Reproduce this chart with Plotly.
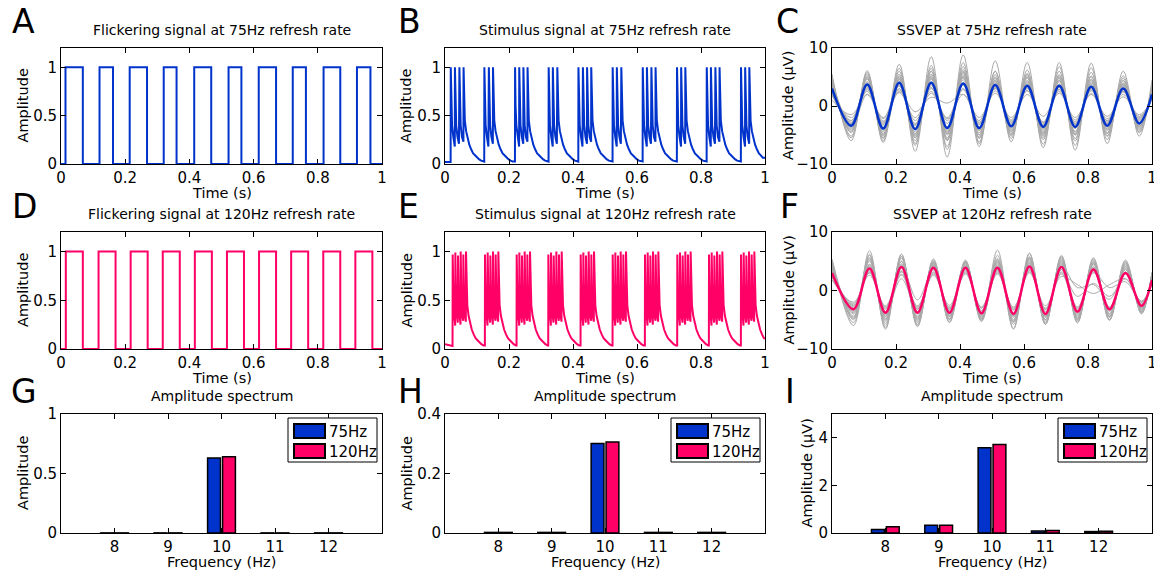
import plotly.graph_objects as go

W, H = 1162, 572
PAD = 8  # page margin around the figure
FONT = "DejaVu Sans"
BLUE = "#0033cc"
PINK = "#ff0066"
GRAY = "#a9a9a9"

time_ticks = [0, 0.2, 0.4, 0.6, 0.8, 1]
time_labels = ["0", "0.2", "0.4", "0.6", "0.8", "1"]
freqs = [8, 9, 10, 11, 12]

# flickering signals (A, D): on / off edges in seconds
flicker75_on = [0.014, 0.120, 0.214, 0.320, 0.415, 0.522, 0.616, 0.722, 0.818, 0.922]
flicker75_off = [0.068, 0.162, 0.268, 0.360, 0.468, 0.562, 0.670, 0.763, 0.870, 0.964]
flicker120_on = [0.015, 0.117, 0.217, 0.317, 0.417, 0.517, 0.617, 0.717, 0.817, 0.917]
flicker120_off = [0.068, 0.170, 0.270, 0.370, 0.470, 0.570, 0.670, 0.770, 0.870, 0.970]

# stimulus signals (B, E): spike times per burst, spike peaks, dips, decay shapes
stim75_bursts = [
    [0.018, 0.031, 0.045, 0.058], [0.123, 0.137, 0.150],
    [0.219, 0.232, 0.245, 0.258], [0.324, 0.337, 0.351],
    [0.417, 0.431, 0.444, 0.457], [0.524, 0.537, 0.551],
    [0.618, 0.631, 0.645, 0.658], [0.725, 0.738, 0.751],
    [0.818, 0.831, 0.845, 0.858], [0.925, 0.938, 0.951],
]
stim75_peaks = [1.0, 1.0, 1.0, 1.0]
stim75_dips = [0.18, 0.21, 0.23]
stim75_gap_dt = [0.0015, 0.004, 0.008, 0.0126]
stim75_gap_y = [0.6, 0.4, 0.28]
stim75_lead_t = [0, 0.012]
stim75_lead_y = [0.02, 0.02]

stim120_onsets = [0.024, 0.125, 0.224, 0.323, 0.424, 0.524, 0.625, 0.726, 0.825, 0.925]
stim120_offsets = [0, 0.0083, 0.0167, 0.025, 0.0333, 0.0417]
stim120_peaks = [0.97, 0.99, 0.96, 1.0, 0.97, 1.0]
stim120_dips = [0.24, 0.27, 0.25, 0.29, 0.28]
stim120_gap_dt = [0.001, 0.003, 0.0055, 0.0078]
stim120_gap_y = [0.62, 0.42, 0.33]
stim120_lead_t = [0, 0.01, 0.02]
stim120_lead_y = [0.05, 0.04, 0.03]

tail_dt = [0.0015, 0.004, 0.008, 0.013, 0.018, 0.024, 0.030, 0.036, 0.042, 0.048, 0.055, 0.062, 0.070]
tail_y = [0.62, 0.45, 0.34, 0.27, 0.20, 0.15, 0.11, 0.09, 0.065, 0.05, 0.035, 0.025, 0.02]

# SSVEP (C, F): values at the peaks / troughs of each trial and of the mean
ssvep75_t = [0, 0.06, 0.11, 0.16, 0.21, 0.26, 0.31, 0.36, 0.41, 0.46, 0.51,
             0.56, 0.61, 0.66, 0.71, 0.76, 0.81, 0.86, 0.91, 0.96, 1.0]
ssvep75_mean = [3.0, -3.4, 3.7, -3.9, 4.0, -4.0, 4.0, -3.8, 3.9, -3.8, 3.6,
                -3.5, 3.5, -3.6, 3.5, -3.6, 3.3, -3.4, 3.0, -3.0, 2.0]
ssvep75_trials = [
    [4.5, -4.5, 5.2, -5.5, 7.2, -7.8, 8.5, -8.8, 8.8, -6.5, 6.0, -5.0, 5.5, -5.2, 5.0, -4.8, 5.0, -4.6, 4.4, -4.0, 3.0],
    [5.5, -6.0, 6.1, -6.3, 6.0, -6.5, 7.0, -7.5, 7.5, -7.0, 7.8, -6.2, 7.5, -7.2, 7.5, -7.6, 7.4, -6.5, 6.0, -5.2, 4.5],
    [2.0, -2.0, 2.5, -2.8, 3.0, -2.5, 2.2, -2.0, 3.0, -3.2, 3.0, -2.8, 2.7, -3.0, 2.5, -2.4, 2.2, -2.5, 2.4, -2.0, 1.5],
    [3.5, -3.0, 4.2, -4.5, 5.0, -5.5, 6.0, -5.5, 5.2, -5.0, 4.8, -4.2, 4.0, -4.5, 4.8, -5.0, 4.5, -4.0, 3.8, -3.5, 2.5],
    [3.0, -2.5, 3.5, -3.0, 2.5, -1.0, 1.5, 0.5, 2.0, -2.5, 3.5, -3.2, 3.0, -2.8, 3.2, -3.0, 2.8, -2.6, 2.5, -2.2, 1.8],
    [4.0, -4.0, 4.6, -4.8, 5.5, -5.0, 5.2, -6.0, 6.3, -5.5, 5.0, -4.5, 4.8, -5.5, 6.0, -6.0, 5.8, -5.2, 4.8, -4.5, 3.5],
    [1.0, -1.5, 2.0, -2.0, 2.3, -2.0, 2.5, -2.2, 2.0, -2.0, 2.2, -2.0, 2.0, -1.8, 2.2, -2.0, 2.0, -1.8, 1.6, -1.5, 1.0],
    [3.2, -3.5, 3.5, -4.0, 4.2, -4.5, 4.6, -4.4, 4.5, -4.2, 4.0, -3.8, 4.2, -4.0, 3.8, -3.9, 3.6, -3.7, 3.4, -3.2, 2.2],
    [4.8, -5.2, 5.5, -5.0, 4.8, -6.0, 6.5, -7.0, 6.8, -5.0, 4.5, -4.8, 5.0, -4.6, 4.2, -4.5, 4.0, -4.2, 3.6, -3.8, 2.8],
    [2.5, -3.0, 3.2, -3.5, 3.6, -3.2, 3.5, -3.0, 3.6, -3.6, 3.8, -3.4, 3.2, -3.4, 3.3, -3.2, 3.0, -3.0, 2.8, -2.6, 2.0],
    [3.8, -4.2, 4.0, -3.8, 4.5, -4.8, 5.0, -4.8, 4.8, -4.6, 4.4, -4.0, 4.4, -4.2, 4.5, -4.4, 4.2, -4.0, 3.6, -3.4, 2.6],
    [5.0, -5.5, 5.8, -6.0, 6.5, -6.8, 6.0, -5.8, 5.6, -5.4, 5.4, -5.6, 6.2, -6.6, 6.8, -6.8, 6.6, -5.8, 5.2, -4.6, 3.8],
    [1.8, -2.5, 3.0, -3.2, 3.4, -4.0, 3.0, -2.5, 2.8, -2.8, 2.6, -2.4, 2.6, -2.8, 2.9, -2.7, 2.6, -2.2, 2.0, -1.8, 1.4],
    [2.8, -2.8, 3.8, -4.2, 4.0, -3.8, 4.2, -4.6, 5.0, -4.2, 3.6, -3.6, 3.8, -3.8, 3.6, -3.4, 3.8, -3.4, 3.2, -3.0, 2.2],
    [4.2, -4.6, 5.0, -5.2, 5.2, -5.5, 5.5, -5.0, 5.8, -6.2, 6.0, -5.2, 5.2, -5.0, 5.4, -5.6, 5.2, -4.8, 4.4, -4.2, 3.2],
    [2.2, -3.2, 2.8, -2.6, 2.8, -3.0, 3.2, -3.6, 4.0, -3.0, 3.0, -3.0, 3.4, -3.2, 2.8, -3.0, 3.2, -3.0, 2.6, -2.4, 1.8],
    [3.6, -3.8, 2.0, -2.2, 3.8, -5.2, 4.8, -5.8, 5.2, -4.0, 3.2, -2.6, 3.6, -4.8, 5.2, -5.0, 3.2, -2.8, 3.8, -3.6, 2.6],
    [4.6, -3.6, 4.8, -5.6, 4.6, -3.4, 3.8, -4.2, 6.0, -5.6, 4.2, -4.4, 5.6, -5.8, 4.4, -3.8, 4.6, -5.2, 4.0, -2.8, 2.0],
]

ssvep120_t = [0, 0.067, 0.117, 0.167, 0.217, 0.267, 0.317, 0.367, 0.417, 0.467, 0.517,
              0.567, 0.617, 0.667, 0.717, 0.767, 0.817, 0.867, 0.917, 0.967, 1.0]
ssvep120_mean = [3.0, -3.2, 3.75, -3.8, 4.0, -3.8, 3.9, -3.8, 3.9, -3.9, 3.9,
                 -4.0, 4.1, -4.0, 4.0, -3.6, 3.6, -3.2, 3.0, -2.6, 1.8]
ssvep120_trials = [
    [5.0, -5.5, 6.8, -6.6, 6.2, -6.0, 5.4, -5.4, 5.0, -5.0, 6.9, -6.5, 6.3, -5.8, 5.8, -5.5, 5.6, -5.0, 5.2, -3.9, 3.0],
    [4.0, -4.0, 4.5, -4.5, 5.0, -4.8, 4.8, -4.5, 4.6, -4.6, 4.8, -5.0, 5.2, -5.0, 5.0, -4.6, 4.6, -4.0, 4.0, -3.4, 2.4],
    [2.4, -2.2, 3.0, -3.0, 3.2, -2.8, 3.0, -3.0, 3.2, -3.0, 3.2, -3.2, 3.4, -3.3, 3.2, -1.0, 1.2, -1.0, 2.0, -1.8, 1.2],
    [5.2, -6.0, 6.0, -6.4, 6.2, -6.2, 5.2, -5.5, 5.2, -5.2, 5.5, -6.6, 6.4, -5.8, 6.0, -5.5, 5.4, -5.0, 5.0, -3.8, 3.0],
    [3.4, -3.4, 4.0, -4.0, 4.2, -1.6, 3.5, -3.6, 3.8, -3.8, 4.0, -4.0, 4.2, -4.2, 4.0, -3.8, 3.8, -3.4, 3.2, -2.8, 2.0],
    [2.8, -2.6, 3.4, -3.6, 2.0, -3.2, 3.6, -3.4, 3.6, -3.6, 3.6, -3.8, 3.8, -3.6, 3.6, -3.2, 3.4, -2.8, 2.8, -2.4, 1.6],
    [4.4, -4.4, 5.0, -5.0, 5.5, -5.2, 4.8, -5.0, 4.8, -5.3, 5.2, -5.4, 5.6, -5.4, 5.4, -5.0, 5.0, -4.6, 4.6, -3.6, 2.8],
    [1.8, -2.0, 2.6, -2.6, 2.8, -2.6, 2.6, -2.5, 2.8, -2.8, 2.8, -2.8, 3.0, -2.6, 2.4, 1.0, -0.5, 1.0, 2.0, -2.0, 1.0],
    [4.2, -4.6, 5.5, -5.6, 5.8, -5.5, 4.5, -4.4, 4.4, -4.2, 6.0, -5.8, 5.5, -5.0, 5.2, -5.0, 4.8, -4.4, 4.2, -3.2, 2.6],
    [3.2, -3.0, 3.8, -3.8, 3.8, -3.6, 4.0, -4.0, 4.2, -4.0, 4.2, -4.2, 4.4, -4.0, 4.4, -4.0, 4.0, -3.6, 3.6, -3.0, 2.2],
    [5.4, -5.0, 6.2, -6.0, 5.8, -5.8, 5.0, -5.0, 5.0, -4.8, 5.2, -5.4, 5.8, -5.6, 5.6, -5.2, 5.2, -5.1, 4.8, -4.0, 3.2],
    [3.6, -3.8, 4.4, -4.4, 4.6, -4.4, 4.4, -4.2, 4.2, -4.4, 4.4, -4.6, 4.8, -4.6, 4.6, -4.4, 4.4, -4.0, 3.8, -3.2, 2.4],
    [2.6, -2.8, 3.2, -3.2, 3.4, -3.2, 3.2, -3.2, 3.4, -3.4, 3.6, -3.4, 3.6, -3.2, 3.0, -2.8, 3.0, 0.5, 1.5, -2.0, 1.4],
    [4.6, -4.8, 5.2, -5.2, 5.0, -5.0, 4.6, -4.8, 4.6, -4.8, 5.0, -5.2, 5.0, -5.0, 4.8, -4.8, 4.6, -4.4, 4.4, -3.6, 3.0],
    [4.0, -3.6, 4.2, -4.2, 4.4, -4.0, 4.2, -4.4, 4.0, -4.2, 4.6, -4.4, 4.6, -4.4, 4.2, 0.5, 1.0, -1.5, 3.0, -2.6, 1.8],
    [2.2, -2.4, 3.0, -2.8, 2.6, -3.0, 2.8, -2.8, 3.0, -3.0, 3.0, -3.0, 3.2, -3.0, 2.8, -3.0, 3.2, -3.0, 3.0, -2.2, 1.6],
    [3.8, -3.2, 5.6, -4.8, 3.2, -4.6, 4.2, -3.2, 4.8, -4.8, 3.4, -4.2, 5.4, -4.4, 3.6, -4.2, 4.0, -4.4, 3.6, -3.0, 2.2],
]

# amplitude spectra (G, H, I)
flicker_spec75 = [0.001, 0.001, 0.63, 0.001, 0.001]
flicker_spec120 = [0.001, 0.001, 0.64, 0.001, 0.001]
stim_spec75 = [0.002, 0.002, 0.301, 0.002, 0.002]
stim_spec120 = [0.002, 0.002, 0.306, 0.002, 0.002]
ssvep_spec75 = [0.15, 0.33, 3.58, 0.08, 0.06]
ssvep_spec120 = [0.26, 0.33, 3.72, 0.10, 0.07]


def square_wave(on, off):
    xs, ys = [0.0], [0.0]
    for a, b in zip(on, off):
        xs += [a, b]
        ys += [1, 0]
    xs.append(1.0)
    ys.append(0)
    return xs, ys


def stimulus_wave(lead_t, lead_y, bursts, peaks, dips, gap_dt, gap_y):
    xs, ys = list(lead_t), list(lead_y)
    for k, spikes in enumerate(bursts):
        nxt = bursts[k + 1][0] if k + 1 < len(bursts) else 1.0
        xs.append(spikes[0] - 0.0004)
        ys.append(ys[-1])
        for i, t in enumerate(spikes):
            xs.append(t)
            ys.append(peaks[i])
            if i < len(spikes) - 1:
                xs += [t + d for d in gap_dt]
                ys += gap_y + [dips[i]]
            else:
                for d, v in zip(tail_dt, tail_y):
                    if t + d < nxt - 0.001:
                        xs.append(t + d)
                        ys.append(v)
    xs.append(1.0)
    ys.append(ys[-1])
    return xs, ys


# plot boxes in picture pixels
cols = [(61, 382), (445, 765), (832, 1152)]
rows = [(48, 164), (232, 349), (414, 533)]

FW, FH = W - PAD, H - PAD


def fx(p):
    return (p - PAD) / FW


def fy(p):
    return 1 - (p - PAD) / FH


fig = go.Figure()


def ax(n):
    return ("x" if n == 1 else f"x{n}"), ("y" if n == 1 else f"y{n}")


# A, D: flickering
for n, on, off, col in [(1, flicker75_on, flicker75_off, BLUE), (4, flicker120_on, flicker120_off, PINK)]:
    xs, ys = square_wave(on, off)
    xa, ya = ax(n)
    fig.add_trace(go.Scatter(x=xs, y=ys, mode="lines", line=dict(color=col, width=2, shape="hv"),
                             xaxis=xa, yaxis=ya))

# B, E: stimulus
stim120_bursts = [[o + d for d in stim120_offsets] for o in stim120_onsets]
for n, args, col in [
    (2, (stim75_lead_t, stim75_lead_y, stim75_bursts, stim75_peaks, stim75_dips,
         stim75_gap_dt, stim75_gap_y), BLUE),
    (5, (stim120_lead_t, stim120_lead_y, stim120_bursts, stim120_peaks, stim120_dips,
         stim120_gap_dt, stim120_gap_y), PINK),
]:
    xs, ys = stimulus_wave(*args)
    xa, ya = ax(n)
    fig.add_trace(go.Scatter(x=xs, y=ys, mode="lines", line=dict(color=col, width=2),
                             xaxis=xa, yaxis=ya))

# C, F: SSVEP trials and mean
for n, t, trials, mean, col in [(3, ssvep75_t, ssvep75_trials, ssvep75_mean, BLUE),
                                (6, ssvep120_t, ssvep120_trials, ssvep120_mean, PINK)]:
    xa, ya = ax(n)
    for tr in trials:
        fig.add_trace(go.Scatter(x=t, y=tr, mode="lines",
                                 line=dict(color=GRAY, width=1, shape="spline", smoothing=1),
                                 xaxis=xa, yaxis=ya))
    fig.add_trace(go.Scatter(x=t, y=mean, mode="lines",
                             line=dict(color=col, width=2.5, shape="spline", smoothing=1),
                             xaxis=xa, yaxis=ya))

# G, H, I: spectra
for n, s75, s120 in [(7, flicker_spec75, flicker_spec120), (8, stim_spec75, stim_spec120),
                     (9, ssvep_spec75, ssvep_spec120)]:
    xa, ya = ax(n)
    fig.add_trace(go.Bar(x=freqs, y=s75, width=0.24, offset=-0.26,
                         marker=dict(color=BLUE, line=dict(color="black", width=1.5)),
                         xaxis=xa, yaxis=ya))
    fig.add_trace(go.Bar(x=freqs, y=s120, width=0.24, offset=0.02,
                         marker=dict(color=PINK, line=dict(color="black", width=1.5)),
                         xaxis=xa, yaxis=ya))

base = dict(showline=True, linecolor="black", linewidth=1, mirror="ticks", ticks="inside",
            ticklen=5, tickcolor="black", showgrid=False, zeroline=False, automargin=False,
            tickfont=dict(family=FONT, size=15, color="black"))

yspecs = {
    1: ([0, 1.2], [0, 0.5, 1], ["0", "0.5", "1"]),
    2: ([0, 1.2], [0, 0.5, 1], ["0", "0.5", "1"]),
    3: ([-10, 10], [-10, 0, 10], ["\u221210", "0", "10"]),
    4: ([0, 1.2], [0, 0.5, 1], ["0", "0.5", "1"]),
    5: ([0, 1.2], [0, 0.5, 1], ["0", "0.5", "1"]),
    6: ([-10, 10], [-10, 0, 10], ["\u221210", "0", "10"]),
    7: ([0, 1], [0, 0.5, 1], ["0", "0.5", "1"]),
    8: ([0, 0.4], [0, 0.2, 0.4], ["0", "0.2", "0.4"]),
    9: ([0, 5], [0, 2, 4], ["0", "2", "4"]),
}

layout = {}
for r in range(3):
    for c in range(3):
        n = r * 3 + c + 1
        x0, x1 = cols[c]
        y0, y1 = rows[r]
        if r < 2:
            xr, xv, xt = [0, 1], time_ticks, time_labels
        else:
            xr, xv, xt = [7, 13], freqs, [str(f) for f in freqs]
        yr, yv, yt = yspecs[n]
        sfx = "" if n == 1 else str(n)
        layout["xaxis" + sfx] = dict(base, domain=[fx(x0), fx(x1)], range=xr, tickvals=xv, ticktext=xt,
                                     anchor="y" + sfx)
        layout["yaxis" + sfx] = dict(base, domain=[fy(y1), fy(y0)], range=yr, tickvals=yv, ticktext=yt,
                                     anchor="x" + sfx)

fig.update_layout(**layout)

annotations = []
shapes = []


def text(x, y, s, size, angle=0, xanchor="center"):
    annotations.append(dict(x=fx(x), y=fy(y), xref="paper", yref="paper", text=s, showarrow=False,
                            textangle=angle, xanchor=xanchor, yanchor="middle",
                            font=dict(family=FONT, size=size, color="black")))


titles = [
    ["Flickering signal at 75Hz refresh rate", "Stimulus signal at 75Hz refresh rate", "SSVEP at 75Hz refresh rate"],
    ["Flickering signal at 120Hz refresh rate", "Stimulus signal at 120Hz refresh rate", "SSVEP at 120Hz refresh rate"],
    ["Amplitude spectrum", "Amplitude spectrum", "Amplitude spectrum"],
]
ytitles = [
    ["Amplitude", "Amplitude", "Amplitude (\u03bcV)"],
    ["Amplitude", "Amplitude", "Amplitude (\u03bcV)"],
    ["Amplitude", "Amplitude", "Amplitude (\u03bcV)"],
]
ytitle_x = [[22.5, 406, 788], [22.5, 406, 788], [22.5, 406, 806]]
letters = [["A", "B", "C"], ["D", "E", "F"], ["G", "H", "I"]]
letter_x = [[10, 396, 774], [10, 396, 778], [9, 396, 783]]
letter_y = [22, 206, 391]

for r in range(3):
    for c in range(3):
        x0, x1 = cols[c]
        y0, y1 = rows[r]
        text((x0 + x1) / 2, y0 - 18, titles[r][c], 14)
        text((x0 + x1) / 2, y1 + 29, "Time (s)" if r < 2 else "Frequency (Hz)", 14.5)
        text(ytitle_x[r][c], (y0 + y1) / 2, ytitles[r][c], 14.5, angle=-90)
        text(letter_x[r][c], letter_y[r], letters[r][c], 33, xanchor="left")
        if r == 2:
            bl = x1 - 94
            shapes.append(dict(type="rect", xref="paper", yref="paper", x0=fx(bl), x1=fx(x1 - 5),
                               y0=fy(y0 + 4), y1=fy(y0 + 48), line=dict(color="black", width=1),
                               fillcolor="white"))
            for k, (lab, colr) in enumerate([("75Hz", BLUE), ("120Hz", PINK)]):
                top = y0 + 10 + 20 * k
                shapes.append(dict(type="rect", xref="paper", yref="paper", x0=fx(bl + 6), x1=fx(bl + 37),
                                   y0=fy(top), y1=fy(top + 14), line=dict(color="black", width=2),
                                   fillcolor=colr))
                text(bl + 39, top + 7.5, lab, 15, xanchor="left")

fig.update_layout(
    width=FW, height=FH, margin=dict(l=0, r=0, t=0, b=0),
    plot_bgcolor="white", paper_bgcolor="white", showlegend=False,
    barmode="overlay", annotations=annotations, shapes=shapes,
)

fig.write_html("out.html")
